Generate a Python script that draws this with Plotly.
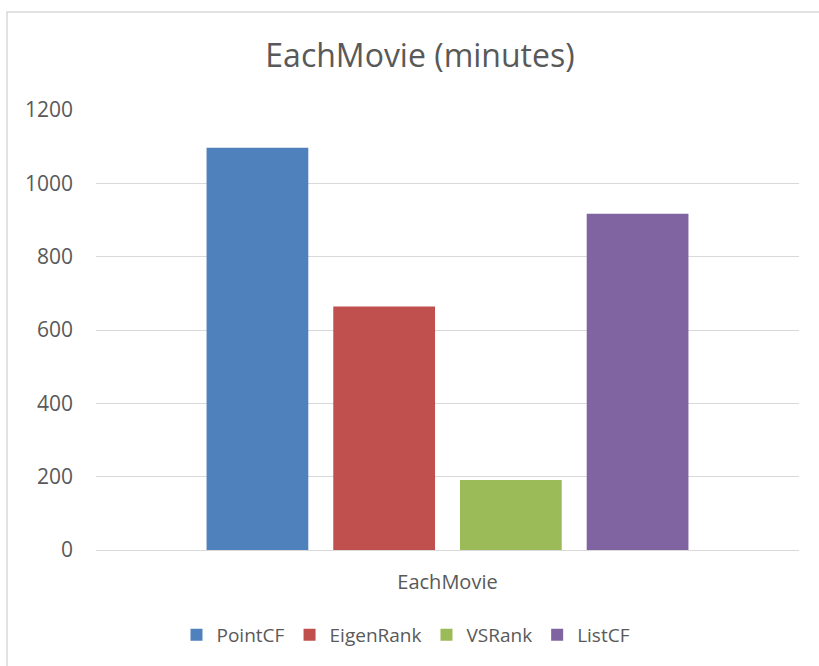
import plotly.graph_objects as go

categories = ["EachMovie"]
series_names = ["PointCF", "EigenRank", "VSRank", "ListCF"]
series_values = [[1097], [664], [191], [917]]
series_colors = ["#4F81BD", "#C0504D", "#9BBB59", "#8064A2"]
y_ticks = [0, 200, 400, 600, 800, 1000, 1200]

W, H = 819, 666
L, R, T, B = 96, 20, 110, 116
pw, ph = W - L - R, H - T - B

fig = go.Figure()
for name, vals, col in zip(series_names, series_values, series_colors):
    fig.add_trace(go.Bar(x=categories, y=vals, name=name, marker_color=col,
                         marker_line_width=0))

font_family = "Open Sans, Noto Sans, sans-serif"
fig.update_layout(
    width=W, height=H,
    margin=dict(l=L, r=R, t=T, b=B),
    paper_bgcolor="white", plot_bgcolor="white",
    barmode="group", bargap=0.279, bargroupgap=0.197,
    title=dict(text="EachMovie (minutes)", x=420 / W, xanchor="center",
               y=1 - 56 / H, yanchor="middle",
               font=dict(family=font_family, size=32, color="#595959")),
    font=dict(family=font_family, size=20, color="#595959"),
    xaxis=dict(showgrid=False, showline=False, ticks="", ticklabelstandoff=18,
               tickfont=dict(size=20, color="#595959")),
    yaxis=dict(range=[0, 1200], tickvals=y_ticks, showgrid=True, gridcolor="#D9D9D9",
               gridwidth=1, zeroline=True, zerolinecolor="#D9D9D9", zerolinewidth=1,
               ticks="", ticklabelstandoff=22, tickfont=dict(size=21, color="#595959")),
    legend=dict(orientation="h", x=(406 - L) / pw, xanchor="center",
                y=(550 - 635) / ph, yanchor="middle",
                font=dict(size=19, color="#595959"), itemwidth=30),
    showlegend=True,
)

fig.add_shape(type="rect", xref="paper", yref="paper",
              x0=(7 - L) / pw, x1=(840 - L) / pw,
              y0=(550 - 690) / ph, y1=(550 - 12) / ph,
              line=dict(color="#D9D9D9", width=1.5), fillcolor="rgba(0,0,0,0)", layer="below")

fig.write_html("out.html")
